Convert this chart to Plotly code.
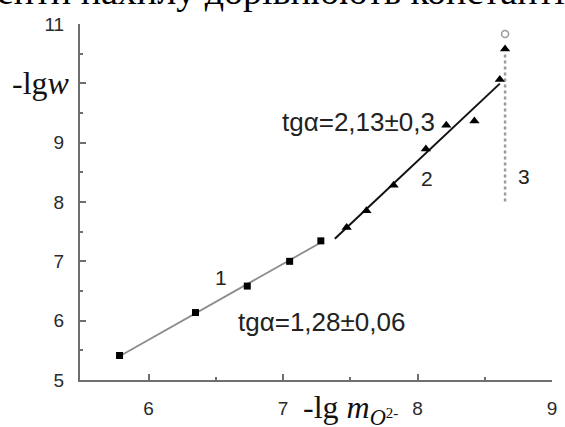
import plotly.graph_objects as go

# Series 1 (squares) and series 2 (triangles): -lg m vs -lg w
x1 = [5.784, 6.349, 6.734, 7.049, 7.281]
y1 = [5.413, 6.137, 6.583, 7.000, 7.345]
x2 = [7.473, 7.620, 7.822, 8.062, 8.214, 8.423, 8.612]
y2 = [7.569, 7.853, 8.281, 8.894, 9.295, 9.367, 10.064]

# Fitted slopes
slope1 = 1.28
slope2 = 2.13

# Branch 3: vertical limit
x3 = 8.651
y3_range = [8.01, 10.52]
y3_arrow = 10.577
y3_open = 10.833

x_ticks = [6, 7, 8, 9]
y_ticks = [5, 6, 7, 8, 9, 10, 11]
y_ticktext = ["5", "6", "7", "8", "9", "", "11"]

W, H = 565, 427
ML, MR, MT, MB = 80, 8, 24, 44
X_RANGE = [5.49, 9.0]
Y_RANGE = [5.0, 11.0]


def fit_line(xs, ys, k, x_start, x_end):
    # line with fixed slope k through the centroid of the points
    mx = sum(xs) / len(xs)
    my = sum(ys) / len(ys)
    return [x_start, x_end], [my + k * (x_start - mx), my + k * (x_end - mx)]


lx1, ly1 = fit_line(x1, y1, slope1, x1[0], x1[-1])
lx2, ly2 = fit_line(x2, y2, slope2, 7.385, x2[-1])

fig = go.Figure()

fig.add_trace(go.Scatter(x=lx1, y=ly1, mode="lines",
                         line=dict(color="#8c8c8c", width=1.8), hoverinfo="skip"))
fig.add_trace(go.Scatter(x=lx2, y=ly2, mode="lines",
                         line=dict(color="#111111", width=2), hoverinfo="skip"))
fig.add_trace(go.Scatter(x=[x3, x3], y=y3_range, mode="lines",
                         line=dict(color="#9a9a9a", width=2.5, dash="dot"), hoverinfo="skip"))

fig.add_trace(go.Scatter(x=x1, y=y1, mode="markers",
                         marker=dict(symbol="square", size=7, color="#000000")))
fig.add_trace(go.Scatter(x=x2, y=y2, mode="markers",
                         marker=dict(symbol="triangle-up", size=9, color="#000000")))
fig.add_trace(go.Scatter(x=[x3], y=[y3_arrow], mode="markers",
                         marker=dict(symbol="triangle-up", size=9, color="#000000")))
fig.add_trace(go.Scatter(x=[x3], y=[y3_open], mode="markers",
                         marker=dict(symbol="circle-open", size=7,
                                     color="#9a9a9a", line=dict(width=1.5))))

axis_common = dict(
    showgrid=False, zeroline=False, showline=True,
    linecolor="#6e6e6e", linewidth=2,
    ticks="inside", ticklen=6, tickwidth=1.5, tickcolor="#6e6e6e",
    tickfont=dict(family="Liberation Sans, Arial", size=19, color="#2a2a2a"),
    ticklabelstandoff=10,
)

fig.update_xaxes(range=X_RANGE, tickvals=x_ticks,
                 minor=dict(tickvals=[6.5, 7.5, 8.5], ticks="inside",
                            ticklen=3, tickcolor="#6e6e6e", tickwidth=1.5),
                 **axis_common)
fig.update_yaxes(range=Y_RANGE, tickvals=y_ticks, ticktext=y_ticktext,
                 minor=dict(tickvals=[5.5, 6.5, 7.5, 8.5, 9.5, 10.5], ticks="inside",
                            ticklen=3, tickcolor="#6e6e6e", tickwidth=1.5),
                 **axis_common)


def px_x(p):
    return (p - ML) / (W - ML - MR)


def px_y(p):
    return (H - MB - p) / (H - MT - MB)


label_font = dict(family="Liberation Sans, Arial", color="#222222")
serif = "Liberation Serif, Times New Roman"

annotations = [
    dict(x=6.977, y=9.341, xanchor="left", yanchor="middle",
         text="tg\u03b1=2,13\u00b10,3", font=dict(size=26, **label_font)),
    dict(x=6.653, y=5.978, xanchor="left", yanchor="middle",
         text="tg\u03b1=1,28\u00b10,06", font=dict(size=26, **label_font)),
    dict(x=6.537, y=6.73, text="1", font=dict(size=21, **label_font)),
    dict(x=8.067, y=8.393, text="2", font=dict(size=21, **label_font)),
    dict(x=8.789, y=8.435, text="3", font=dict(size=21, **label_font)),
]
for a in annotations:
    a.update(xref="x", yref="y", showarrow=False)

annotations += [
    # axis titles
    dict(x=px_x(72), y=10, xref="paper", yref="y", xanchor="right", yanchor="middle",
         showarrow=False, text="-lg<i>w</i>",
         font=dict(family=serif, size=32, color="#111111")),
    dict(x=px_x(303), y=px_y(413), xref="paper", yref="paper", xanchor="left", yanchor="middle",
         showarrow=False,
         text="-lg <i>m</i><sub><i>O</i></sub><span style='font-size:15px'>2-</span>",
         font=dict(family=serif, size=32, color="#111111")),
    # running text of the page above the figure
    dict(x=px_x(-6), y=px_y(-9), xref="paper", yref="paper", xanchor="left", yanchor="middle",
         showarrow=False, text="енти нахилу дорівнюють константі",
         font=dict(family=serif, size=38, color="#000000")),
]

fig.update_layout(
    width=W, height=H,
    margin=dict(l=ML, r=MR, t=MT, b=MB, pad=0),
    paper_bgcolor="white", plot_bgcolor="white",
    showlegend=False,
    annotations=annotations,
)

fig.write_html("out.html")
